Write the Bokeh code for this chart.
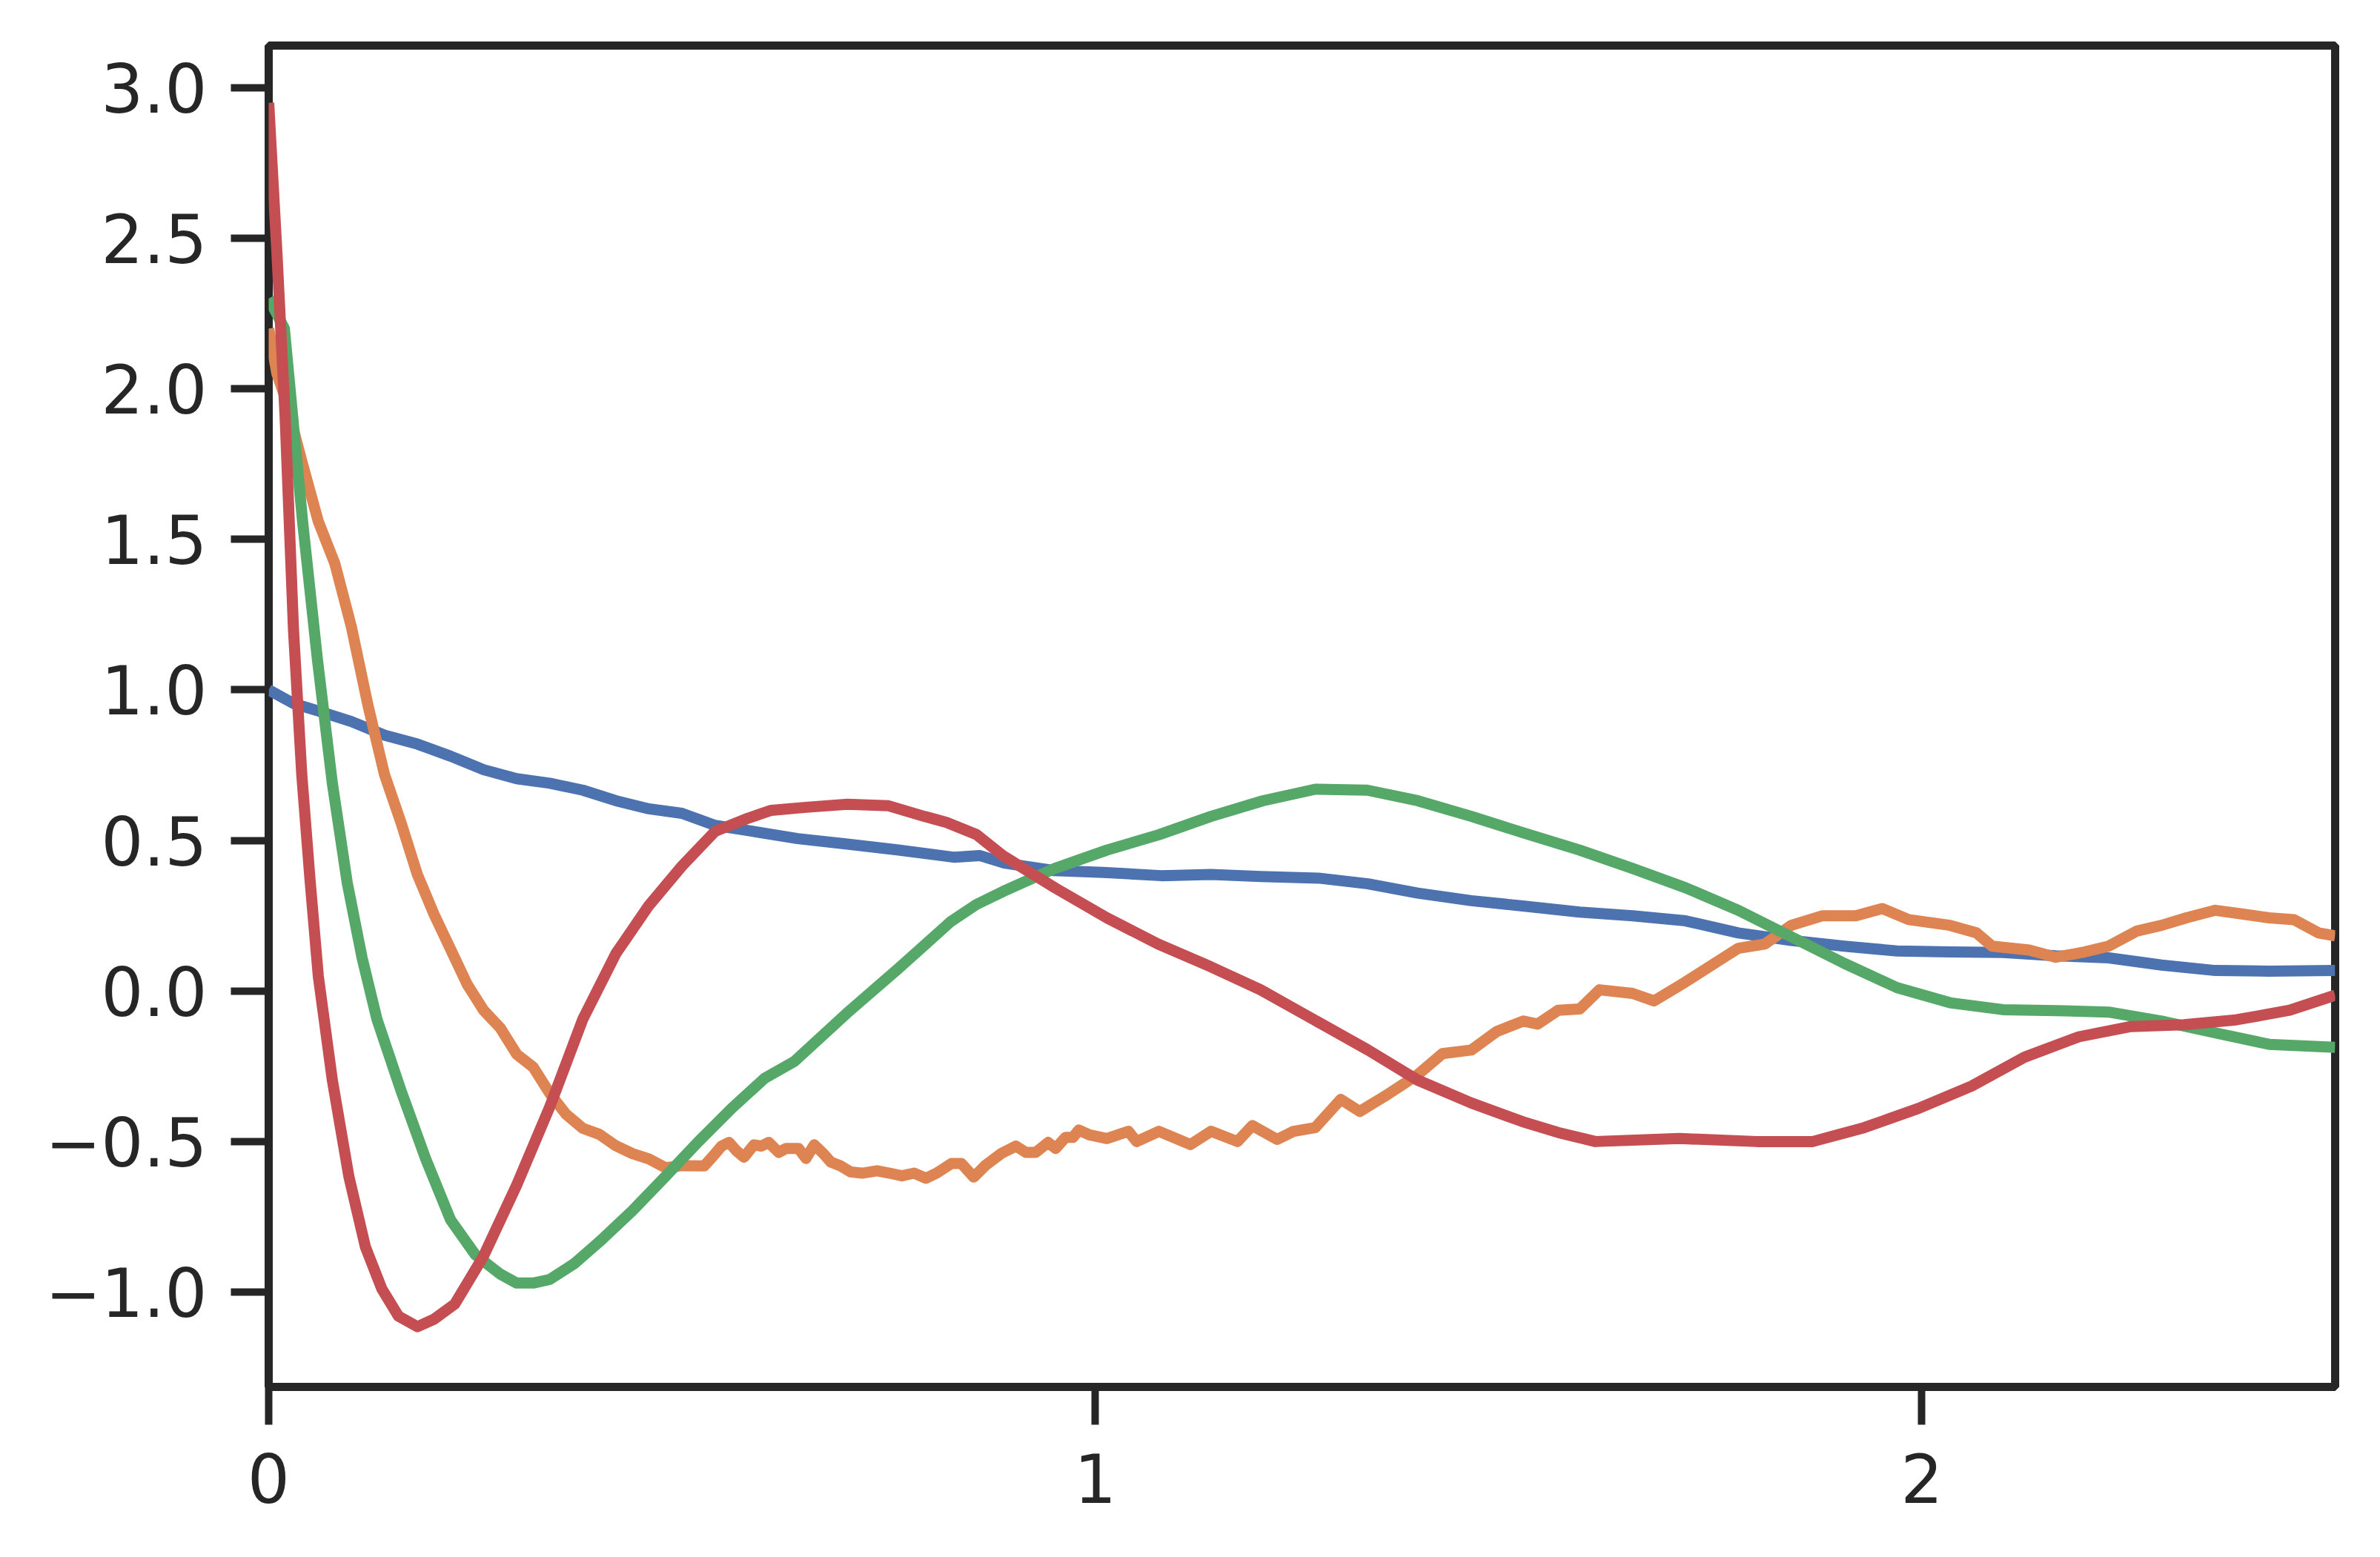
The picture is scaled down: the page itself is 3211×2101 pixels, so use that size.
from bokeh.plotting import figure
from bokeh.models import Range1d, FixedTicker, CustomJSTickFormatter
from bokeh.embed import file_html
from bokeh.resources import INLINE

# ---- data ----
blue_x = [0, 0.03, 0.06, 0.10, 0.14, 0.18, 0.22, 0.26, 0.30, 0.34, 0.38, 0.42, 0.46, 0.50,
          0.54, 0.575, 0.64, 0.70, 0.76, 0.83, 0.86, 0.89, 0.95, 1.01, 1.08, 1.14, 1.20,
          1.27, 1.33, 1.39, 1.455, 1.515, 1.586, 1.65, 1.714, 1.778, 1.842, 1.906, 1.97,
          2.034, 2.098, 2.162, 2.226, 2.29, 2.355, 2.42, 2.50]
blue_y = [1.0, 0.955, 0.93, 0.895, 0.85, 0.82, 0.78, 0.735, 0.705, 0.69, 0.667, 0.632, 0.605,
          0.59, 0.55, 0.535, 0.506, 0.488, 0.469, 0.444, 0.45, 0.425, 0.40, 0.394, 0.383,
          0.387, 0.38, 0.375, 0.356, 0.325, 0.30, 0.283, 0.262, 0.25, 0.233, 0.193, 0.168,
          0.149, 0.133, 0.13, 0.128, 0.117, 0.11, 0.086, 0.068, 0.066, 0.068]

orange_x = [0, 0.01, 0.02, 0.04, 0.06, 0.08, 0.10, 0.12, 0.14, 0.16, 0.18, 0.20, 0.22, 0.24,
            0.26, 0.28, 0.30, 0.32, 0.34, 0.36, 0.38, 0.40, 0.42, 0.44, 0.46, 0.48, 0.50,
            0.527, 0.539, 0.548, 0.557, 0.566, 0.575, 0.587, 0.596, 0.605, 0.617, 0.626,
            0.641, 0.650, 0.660, 0.671, 0.680, 0.692, 0.704, 0.718, 0.736, 0.751, 0.766,
            0.781, 0.795, 0.808, 0.826, 0.838, 0.853, 0.868, 0.886, 0.904, 0.916, 0.928,
            0.943, 0.952, 0.964, 0.973, 0.980, 0.993, 1.014, 1.04, 1.05,
            1.077, 1.115, 1.14, 1.172, 1.19, 1.22, 1.24, 1.266, 1.297, 1.32, 1.35, 1.39,
            1.42, 1.455, 1.486, 1.518, 1.535, 1.56, 1.586, 1.61, 1.65, 1.676, 1.714, 1.746,
            1.778, 1.81, 1.842, 1.88, 1.92, 1.952, 1.984, 2.034, 2.066, 2.085, 2.13, 2.162,
            2.194, 2.226, 2.26, 2.29, 2.32, 2.355, 2.387, 2.42, 2.45, 2.48, 2.50]
orange_y = [2.2, 2.05, 1.97, 1.76, 1.56, 1.42, 1.21, 0.95, 0.72, 0.56, 0.386, 0.255, 0.139,
            0.023, -0.064, -0.122, -0.21, -0.253, -0.34, -0.41, -0.456, -0.476, -0.514,
            -0.54, -0.558, -0.587, -0.58,
            -0.581, -0.544, -0.515, -0.503, -0.531, -0.552, -0.511, -0.515, -0.503, -0.536,
            -0.523, -0.523, -0.556, -0.511, -0.540, -0.568, -0.581, -0.601, -0.605, -0.597,
            -0.605, -0.614, -0.605, -0.622, -0.605, -0.573, -0.573, -0.618, -0.577, -0.540,
            -0.515, -0.536, -0.536, -0.503, -0.523, -0.486, -0.486, -0.462, -0.478,
            -0.49, -0.466, -0.50, -0.466, -0.51, -0.466,
            -0.50, -0.447, -0.493, -0.466, -0.454, -0.36, -0.40, -0.35, -0.278, -0.208,
            -0.196, -0.134, -0.10, -0.11, -0.064, -0.06, 0.004, -0.008, -0.033, 0.03, 0.086,
            0.142, 0.156, 0.218, 0.25, 0.25, 0.274, 0.237, 0.218, 0.193, 0.149, 0.136,
            0.112, 0.128, 0.149, 0.199, 0.218, 0.243, 0.268, 0.256, 0.243, 0.237, 0.193,
            0.183]

green_x = [0, 0.019, 0.032, 0.041, 0.059, 0.077, 0.095, 0.113, 0.131, 0.16, 0.19, 0.22,
           0.25, 0.28, 0.30, 0.32, 0.34, 0.37, 0.40, 0.44, 0.48, 0.52, 0.56, 0.60, 0.636,
           0.699, 0.762, 0.825, 0.856, 0.888, 0.919, 0.951, 1.014, 1.077, 1.14, 1.203,
           1.266, 1.329, 1.39, 1.455, 1.518, 1.586, 1.65, 1.714, 1.778, 1.842, 1.906, 1.97,
           2.034, 2.098, 2.162, 2.226, 2.29, 2.355, 2.42, 2.50]
green_y = [2.3, 2.2, 1.82, 1.56, 1.1, 0.69, 0.36, 0.11, -0.094, -0.33, -0.558, -0.76,
           -0.876, -0.94, -0.97, -0.97, -0.958, -0.905, -0.833, -0.73, -0.616, -0.5, -0.39,
           -0.29, -0.234, -0.075, 0.075, 0.23, 0.287, 0.33, 0.368, 0.407, 0.468, 0.519, 0.58,
           0.632, 0.67, 0.667, 0.632, 0.58, 0.525, 0.468, 0.407, 0.343, 0.268, 0.18, 0.092,
           0.011, -0.039, -0.062, -0.065, -0.07, -0.10, -0.139, -0.177, -0.187]

red_x = [0, 0.01, 0.02, 0.03, 0.04, 0.05, 0.06, 0.077, 0.097, 0.117, 0.137, 0.157, 0.18,
         0.20, 0.225, 0.26, 0.30, 0.34, 0.38, 0.42, 0.46, 0.50, 0.54, 0.58, 0.608, 0.65,
         0.70, 0.75, 0.793, 0.82, 0.856, 0.888, 0.951, 1.014, 1.076, 1.14, 1.20, 1.265,
         1.33, 1.39, 1.455, 1.517, 1.56, 1.605, 1.707, 1.80, 1.868, 1.93, 1.996, 2.06,
         2.124, 2.19, 2.253, 2.317, 2.38, 2.445, 2.50]
red_y = [2.95, 2.45, 1.9, 1.2, 0.72, 0.37, 0.05, -0.296, -0.616, -0.85, -0.99, -1.08,
         -1.115, -1.09, -1.04, -0.88, -0.645, -0.385, -0.094, 0.124, 0.284, 0.415, 0.53,
         0.574, 0.60, 0.61, 0.62, 0.615, 0.58, 0.56, 0.52, 0.45, 0.343, 0.243, 0.156, 0.08,
         0.004, -0.096, -0.196, -0.296, -0.372, -0.434, -0.47, -0.50, -0.49, -0.50, -0.50,
         -0.454, -0.39, -0.316, -0.22, -0.152, -0.118, -0.112, -0.096, -0.064, -0.014]

x_ticks = [0, 1, 2]
y_ticks = [-1.0, -0.5, 0.0, 0.5, 1.0, 1.5, 2.0, 2.5, 3.0]

INK = "#262626"
FONT = "DejaVu Sans"

p = figure(width=3195, height=2085, output_backend="svg", toolbar_location=None,
           x_range=Range1d(0, 2.5), y_range=Range1d(-1.315, 3.14),
           min_border_left=362, min_border_right=45, min_border_top=61, min_border_bottom=214)
p.background_fill_color = "white"
p.border_fill_color = "white"
p.grid.visible = False
p.outline_line_color = INK
p.outline_line_width = 11
p.outline_line_alpha = 1.0

for ax in (p.xaxis[0], p.yaxis[0]):
    ax.axis_line_color = None
    ax.major_tick_line_color = INK
    ax.major_tick_line_width = 10
    ax.major_tick_out = 51
    ax.major_tick_in = 0
    ax.minor_tick_line_color = None
    ax.major_label_text_font = FONT
    ax.major_label_text_font_size = "90px"
    ax.major_label_text_color = INK

p.yaxis[0].major_label_standoff = 32
p.xaxis[0].major_label_standoff = 38

p.xaxis[0].ticker = FixedTicker(ticks=x_ticks)
p.yaxis[0].ticker = FixedTicker(ticks=y_ticks)
p.xaxis[0].formatter = CustomJSTickFormatter(code="return tick.toFixed(0);")
p.yaxis[0].formatter = CustomJSTickFormatter(
    code="return tick.toFixed(1).replace('-', '\u2212');")

LW = 15
p.line(blue_x, blue_y, line_color="#4C72B0", line_width=LW, line_join="round")
p.line(orange_x, orange_y, line_color="#DD8452", line_width=LW, line_join="round")
p.line(green_x, green_y, line_color="#55A868", line_width=LW, line_join="round")
p.line(red_x, red_y, line_color="#C44E52", line_width=LW, line_join="round")

open("out.html", "w").write(file_html(p, INLINE))
